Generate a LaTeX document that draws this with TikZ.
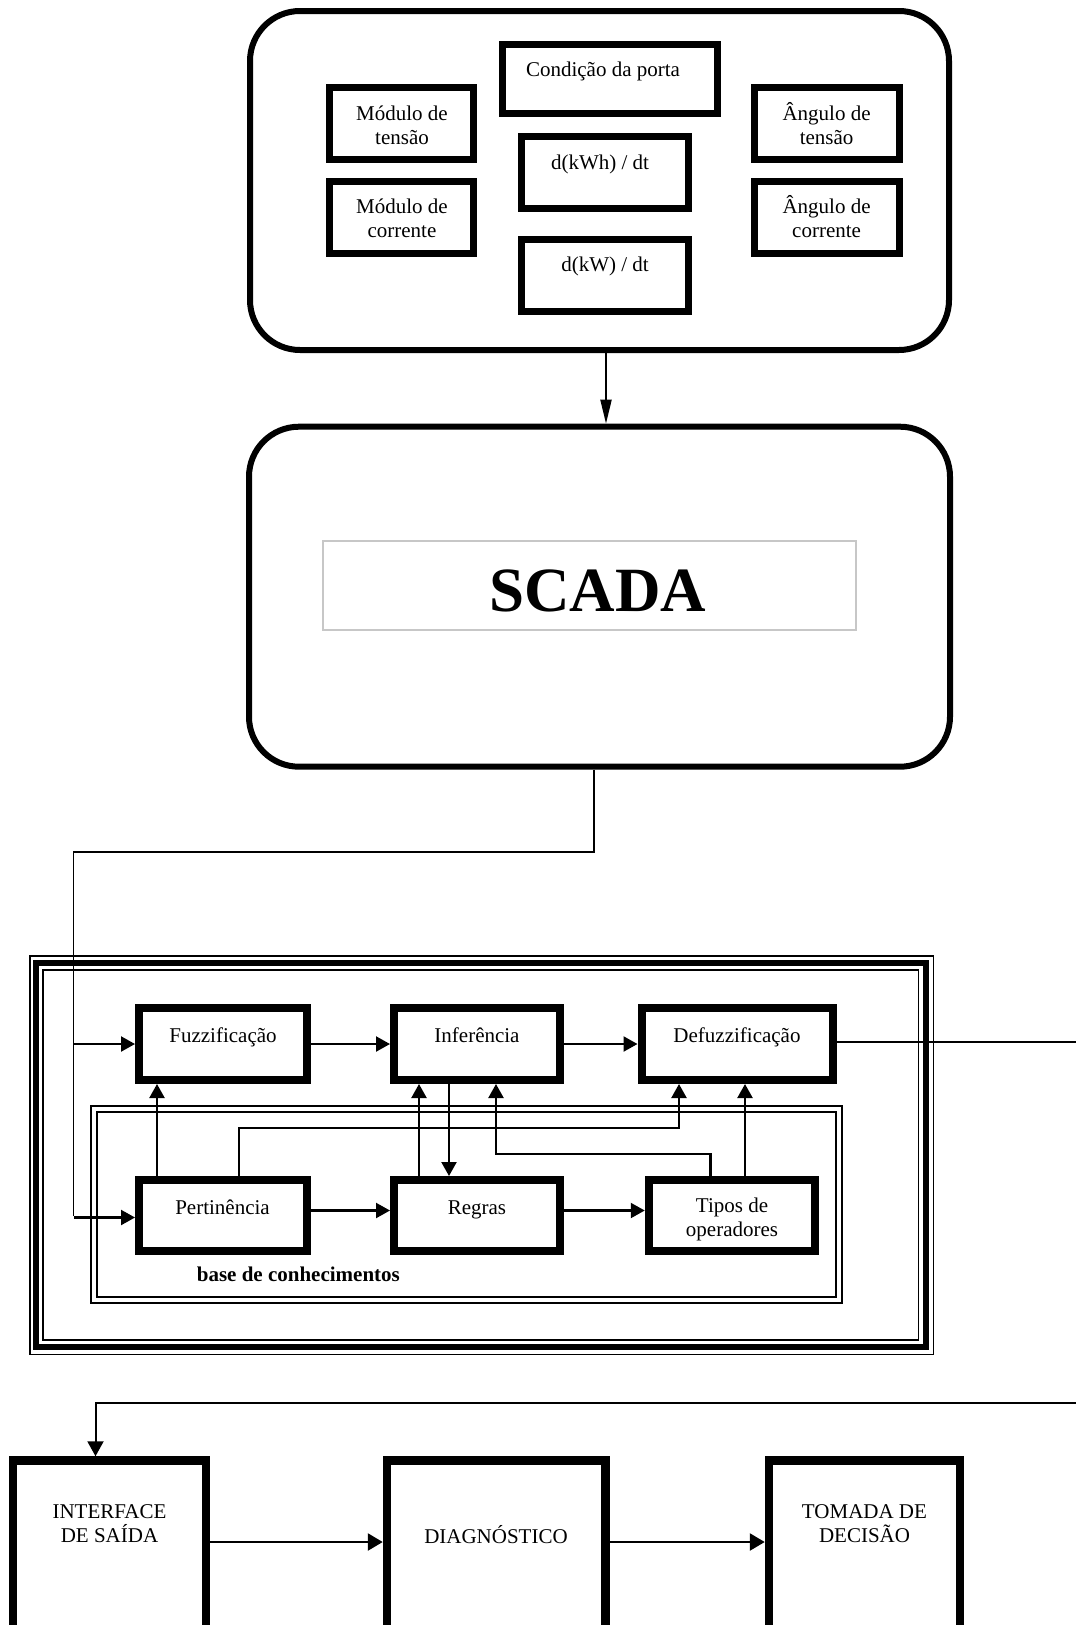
\documentclass[tikz,border=0pt]{standalone}
\usepackage{fontspec}
\setmainfont{Liberation Serif}
\usetikzlibrary{arrows.meta}
\begin{document}
\begin{tikzpicture}[x=1pt,y=-1pt,
  tbox/.style={draw, line width=7pt, inner sep=0pt, outer sep=3.5pt},
  fbox/.style={draw, line width=8pt, inner sep=0pt, outer sep=4pt},
  rbox/.style={draw, line width=6pt, rounded corners=50pt, inner sep=0pt, outer sep=3pt},
  lbl/.style={font=\fontsize{21}{24}\selectfont, align=center, anchor=base, inner sep=0pt},
  arr/.style={line width=2.2pt, -{Triangle[length=14pt,width=15pt]}},
  arrb/.style={line width=2.6pt, -{Triangle[length=15pt,width=17pt]}},
  conn/.style={line width=1.5pt},
  frame/.style={draw, line width=#1}
]
\useasboundingbox (0,0) rectangle (1076,1625);
\clip (0,0) rectangle (1076,1625);

% ---------- top measurement box ----------
\node[rbox, minimum width=699pt, minimum height=339pt] (top) at (599.5,180.5) {};
\node[tbox, minimum width=215pt, minimum height=69pt] (cond) at (610.3,78.5) {};
\node[tbox, minimum width=144pt, minimum height=72pt] (mt) at (401.5,123.5) {};
\node[tbox, minimum width=144pt, minimum height=72pt] (mc) at (401.5,217.5) {};
\node[tbox, minimum width=167pt, minimum height=72pt] (kwh) at (605,172.3) {};
\node[tbox, minimum width=167pt, minimum height=72pt] (kw) at (605,275.7) {};
\node[tbox, minimum width=145pt, minimum height=72pt] (at) at (826.6,123.5) {};
\node[tbox, minimum width=145pt, minimum height=72pt] (ac) at (826.6,217.5) {};

% (base anchor of a two-line label = baseline of its last line)
\node[lbl] (tcond) at (603,76) {Condição da porta};
\node[lbl] (tmt) at (402,144) {Módulo de\\tensão};
\node[lbl] (tmc) at (402,237.3) {Módulo de\\corrente};
\node[lbl] (tkwh) at (600,169.3) {d(kWh) / dt};
\node[lbl] (tkw) at (605,271.7) {d(kW) / dt};
\node[lbl] (tat) at (826.6,144) {Ângulo de\\tensão};
\node[lbl] (tac) at (826.6,237.3) {Ângulo de\\corrente};

% ---------- SCADA ----------
\node[rbox, minimum width=701pt, minimum height=340pt] (scada) at (599.5,596.7) {};
\node[draw=black!22, line width=1.5pt, inner sep=0pt, minimum width=533pt, minimum height=89pt] (scbox) at (589.5,585.5) {};
\node[font=\bfseries\fontsize{63}{70}\selectfont, anchor=base, inner sep=0pt] (sctxt) at (597.6,611.7) {SCADA};

\draw[line width=2pt, -{Triangle[length=24pt,width=11pt]}] ([xshift=6.5pt]top.south) -- ([xshift=6.5pt]scada.north);

% ---------- fuzzy system frame ----------
\draw[frame=1.6pt] (30.2,956.2) rectangle (933.3,1354.3);
\draw[frame=6pt] (36,963) rectangle (925.5,1347.3);
\draw[frame=1.6pt] (43.2,970.2) rectangle (918.5,1340);
% knowledge base frame
\draw[frame=2pt] (91,1106) rectangle (842,1303);
\draw[frame=2.2pt] (97,1112) rectangle (836,1297);

\node[fbox, minimum width=168pt, minimum height=72pt] (fuz) at (223,1044) {};
\node[fbox, minimum width=166pt, minimum height=72pt] (inf) at (477,1044) {};
\node[fbox, minimum width=191pt, minimum height=72pt] (def) at (737,1044) {};
\node[fbox, minimum width=168pt, minimum height=71pt] (per) at (223,1215.5) {};
\node[fbox, minimum width=166pt, minimum height=71pt] (reg) at (477,1215.5) {};
\node[fbox, minimum width=166.5pt, minimum height=71pt] (tip) at (732,1215.5) {};

\node[lbl] (tfuz) at (223,1042) {Fuzzificação};
\node[lbl] (tinf) at (477,1042) {Inferência};
\node[lbl] (tdef) at (737,1042) {Defuzzificação};
\node[lbl] (tper) at (222.5,1214) {Pertinência};
\node[lbl] (treg) at (477,1214) {Regras};
\node[lbl] (ttip) at (732,1236.7) {Tipos de\\operadores};
\node[font=\bfseries\fontsize{21}{24}\selectfont, anchor=base west, inner sep=0pt] (kb) at (196.7,1281.7) {base de conhecimentos};

% connectors
\coordinate (bend) at (73.5,852);
\draw[conn] ([xshift=-5.5pt]scada.south) |- (bend) -- (bend |- per.west);
\draw[arr] (bend |- fuz.west) -- (fuz.west);
\draw[arr] ([yshift=-2pt]bend |- per.west) -- ([yshift=-2pt]per.west);

\draw[arr] (fuz.east) -- (inf.west);
\draw[arr] (inf.east) -- (def.west);
\draw[arr] ([yshift=5pt]per.east) -- ([yshift=5pt]reg.west);
\draw[arr] ([yshift=5pt]reg.east) -- ([yshift=5pt]tip.west);
\draw[arr] ([xshift=-66pt]per.north) -- ([xshift=-66pt]fuz.south);
\draw[arr] ([xshift=-58pt]reg.north) -- ([xshift=-58pt]inf.south);
\draw[arr] ([xshift=-28pt]inf.south) -- ([xshift=-28pt]reg.north);
\draw[arr] ([xshift=16pt]per.north) -- ++(0,-48) -| ([xshift=-58pt]def.south);
\draw[arr] ([xshift=-21.5pt]tip.north) -- ++(0,-22) -| ([xshift=19pt]inf.south);
\draw[arr] ([xshift=13pt]tip.north) -- ([xshift=8pt]def.south);
\coordinate (rout) at (1090,1042);
\draw[conn] ([yshift=2pt]def.east) -- (rout);

% ---------- output chain ----------
\node[fbox, line width=8.5pt, outer sep=4.25pt, minimum width=193pt, minimum height=260pt] (ifc) at (109.5,1590.5) {};
\node[fbox, line width=8.5pt, outer sep=4.25pt, minimum width=218.5pt, minimum height=260pt] (diag) at (496.25,1590.5) {};
\node[fbox, line width=8.5pt, outer sep=4.25pt, minimum width=191pt, minimum height=260pt] (tom) at (864.5,1590.5) {};

\node[lbl] (tifc) at (109.5,1542) {INTERFACE\\DE SAÍDA};
\node[lbl] (tdiag) at (496,1543) {DIAGNÓSTICO};
\node[lbl] (ttom) at (864.5,1542) {TOMADA DE\\DECISÃO};

\draw[arrb] ([yshift=48.5pt]ifc.east) -- ([yshift=48.5pt]diag.west);
\draw[arrb] ([yshift=48.5pt]diag.east) -- ([yshift=48.5pt]tom.west);
\coordinate (rin) at (1090,1403);
\draw[line width=2pt, -{Triangle[length=15pt,width=16pt]}] (rin) -| ([xshift=-14pt]ifc.north);
\end{tikzpicture}
\end{document}
